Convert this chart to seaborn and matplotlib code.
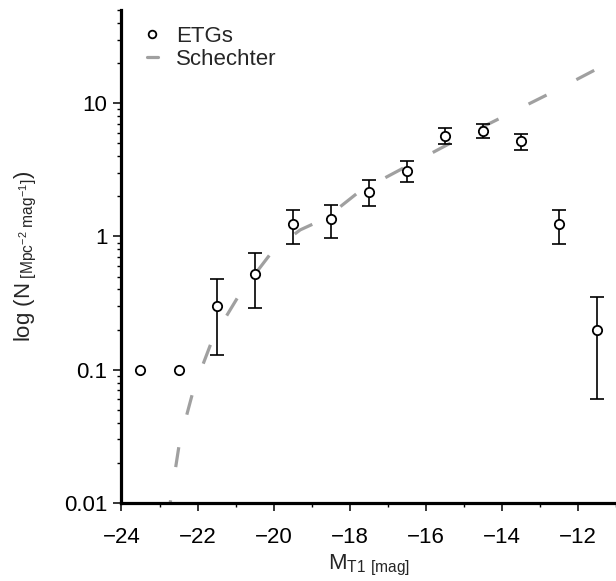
import numpy as np
import pandas as pd
import matplotlib
matplotlib.use("Agg")
import matplotlib.pyplot as plt
from matplotlib.lines import Line2D
from matplotlib.ticker import FixedLocator, FixedFormatter, LogLocator, NullFormatter
import seaborn as sns

# ETG luminosity function
mag = [-23.5, -22.5, -21.5, -20.5, -19.5, -18.5, -17.5, -16.5, -15.5, -14.5, -13.5, -12.5, -11.5]
n_etg = [0.10, 0.10, 0.30, 0.52, 1.23, 1.34, 2.14, 3.08, 5.65, 6.15, 5.18, 1.23, 0.20]
err_lo = [np.nan, np.nan, 0.13, 0.29, 0.87, 0.97, 1.68, 2.55, 4.92, 5.45, 4.43, 0.87, 0.06]
err_hi = [np.nan, np.nan, 0.48, 0.75, 1.57, 1.71, 2.64, 3.66, 6.49, 6.95, 5.85, 1.57, 0.35]

# Schechter fit, sampled from the dashed curve
sch_mag = [-22.85, -22.72, -22.47, -22.1, -21.6, -20.9, -20.0, -19.3, -18.63,
           -17.74, -16.45, -15.16, -13.94, -12.67, -11.4, -11.0]
sch_n = [0.0075, 0.010, 0.029, 0.072, 0.171, 0.366, 0.795, 1.12, 1.37,
         2.18, 3.42, 5.36, 7.98, 12.1, 18.7, 21.4]

sns.set_style("ticks")
plt.rcParams["font.family"] = ["Liberation Sans", "DejaVu Sans"]
plt.rcParams["mathtext.fontset"] = "custom"
plt.rcParams["mathtext.rm"] = "Liberation Sans"
plt.rcParams["mathtext.it"] = "Liberation Sans"

fig = plt.figure(figsize=(6.16, 5.81), dpi=100)
ax = fig.add_axes([0.1972, 0.1343, 0.8028, 0.8485])

sch = pd.DataFrame({"mag": sch_mag, "n": sch_n})
sns.lineplot(data=sch, x="mag", y="n", ax=ax, color="#a0a0a0", lw=2.3,
             linestyle=(0, (6.3, 10.5)), sort=False, estimator=None)

df = pd.DataFrame({"mag": mag, "n": n_etg, "lo": err_lo, "hi": err_hi})
witherr = df.dropna()
ax.errorbar(witherr["mag"], witherr["n"],
            yerr=[witherr["n"] - witherr["lo"], witherr["hi"] - witherr["n"]],
            fmt="none", ecolor="black", elinewidth=1.2, capsize=5, capthick=1.2)
sns.scatterplot(data=df, x="mag", y="n", ax=ax, marker="o", s=45,
                facecolor="white", edgecolor="black", linewidth=1.3, zorder=3)

ax.set_yscale("log")
ax.set_xlim(-24, -11)
ax.set_ylim(0.01, 50)

ax.xaxis.set_major_locator(FixedLocator([-24, -22, -20, -18, -16, -14, -12]))
ax.xaxis.set_minor_locator(FixedLocator([-23, -21, -19, -17, -15, -13, -11]))
ax.set_xticklabels(["\u221224", "\u221222", "\u221220", "\u221218", "\u221216", "\u221214", "\u221212"])
ax.yaxis.set_major_locator(FixedLocator([0.01, 0.1, 1, 10]))
ax.yaxis.set_major_formatter(FixedFormatter(["0.01", "0.1", "1", "10"]))
ax.yaxis.set_minor_locator(LogLocator(base=10, subs=np.arange(2, 10)))
ax.yaxis.set_minor_formatter(NullFormatter())

ax.tick_params(axis="both", which="major", labelsize=16, length=6, width=1.1, color="black", labelcolor="black")
ax.tick_params(axis="both", which="minor", length=3, width=1.0, color="black")
ax.tick_params(axis="y", which="major", pad=4)
ax.tick_params(axis="x", which="major", pad=11)

sns.despine(ax=ax)
for side in ["left", "bottom"]:
    ax.spines[side].set_linewidth(2.3)
    ax.spines[side].set_color("black")

ax.set_xlabel(r"M$_{\mathrm{T1}}$$_{\mathrm{\ [mag]}}$", fontsize=16, labelpad=4)
ax.set_ylabel(r"log (N$_{\mathrm{\ [Mpc^{-2}\ mag^{-1}]}}$)", fontsize=16, labelpad=18)

handles = [
    Line2D([], [], marker="o", ls="none", mfc="white", mec="black", mew=1.3, ms=5.5),
    Line2D([], [], color="#a0a0a0", lw=2.3),
]
ax.legend(handles, ["ETGs", "Schechter"], loc="upper left", bbox_to_anchor=(0.02, 1.0),
          frameon=False, fontsize=16, handlelength=0.5, handletextpad=0.8,
          labelspacing=0.1, borderaxespad=0.3)

fig.savefig("out.png", dpi=100)
